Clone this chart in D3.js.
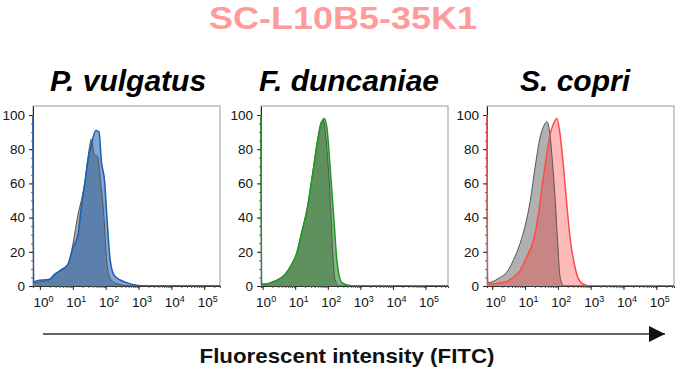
<!DOCTYPE html>
<html>
<head>
<meta charset="utf-8">
<script src="https://cdn.jsdelivr.net/npm/d3@7"></script>
<style>
  body { margin: 0; background: #fff; }
  text { font-family: "Liberation Sans", Arial, sans-serif; }
</style>
</head>
<body>
<div id="chart"></div>
<script>
////////////////////////////////////////////////////////////////////////
// Data. x values are log10(FITC), y is % of max

let chartTitle = "SC-L10B5-35K1";
let species = ["P. vulgatus", "F. duncaniae", "S. copri"];
let axisLabel = "Fluorescent intensity (FITC)";

let yTicks = [0, 20, 40, 60, 80, 100];
let xTickExps = [0, 1, 2, 3, 4, 5];

// control (grey) histograms
let controlP = [[-0.21, 100], [-0.19, 2], [0.3, 4], [0.6, 9], [0.86, 13], [1.0, 24], [1.16, 42],
  [1.26, 50], [1.36, 60], [1.46, 75], [1.57, 86], [1.65, 77], [1.75, 76], [1.85, 60],
  [1.95, 40], [2.03, 15], [2.15, 4], [2.4, 1], [2.8, 0], [5.48, 0]];
let controlF = [[-0.05, 100], [-0.03, 1], [0.39, 3], [0.7, 7], [0.9, 13], [1.05, 20], [1.2, 32],
  [1.36, 45], [1.51, 63], [1.67, 84], [1.8, 96], [1.86, 97], [1.95, 85], [2.07, 52],
  [2.15, 20], [2.22, 4], [2.35, 0], [5.69, 0]];
let controlS = [[-0.16, 100], [-0.14, 2], [0.24, 5], [0.44, 8], [0.64, 15], [0.85, 25],
  [1.0, 35], [1.16, 50], [1.31, 70], [1.46, 87], [1.58, 94], [1.67, 96], [1.75, 90],
  [1.82, 76], [1.92, 50], [1.99, 27], [2.07, 5], [2.18, 0], [5.54, 0]];

// stained (coloured) histograms
let sampleP = [[-0.21, 100], [-0.19, 2], [-0.1, 3], [0.3, 4], [0.45, 7], [0.7, 10], [0.86, 13],
  [1.0, 22], [1.16, 30], [1.26, 46], [1.36, 59], [1.46, 73], [1.57, 83], [1.7, 91],
  [1.8, 90], [1.87, 73], [1.97, 61], [2.04, 40], [2.14, 15], [2.27, 6], [2.63, 2],
  [2.93, 0.5], [3.33, 0], [5.48, 0]];
let sampleF = [[-0.05, 100], [-0.03, 1], [0.39, 3], [0.7, 7], [0.9, 13], [1.05, 19], [1.2, 31],
  [1.36, 44], [1.51, 62], [1.67, 82], [1.8, 95], [1.89, 98], [1.97, 93], [2.07, 70],
  [2.18, 41], [2.28, 15], [2.43, 2], [2.74, 0], [5.69, 0]];
let sampleS = [[-0.16, 100], [-0.14, 1], [0.34, 2], [0.64, 5], [0.85, 9], [1.05, 17], [1.26, 27],
  [1.41, 42], [1.56, 64], [1.67, 78], [1.77, 89], [1.87, 95], [1.97, 98], [2.05, 91],
  [2.17, 70], [2.28, 46], [2.38, 27], [2.5, 13], [2.63, 4], [2.78, 1], [2.98, 0], [5.54, 0]];

let controls = [controlP, controlF, controlS];
let samples = [sampleP, sampleF, sampleS];

// axis ranges (log10) of each panel as drawn
let xDomainsLog = [[-0.21, 5.48], [-0.05, 5.69], [-0.16, 5.54]];

////////////////////////////////////////////////////////////////////////
// Layout and styles

let width = 680;
let height = 377;
let panelLeft = [33, 261, 487];
let panelWidth = 187;
let plotTop = 106;
let plotBottom = 286;
let nameCenter = [128, 349, 575];

let sampleStroke = ["#1a5fb4", "#1f9a1f", "#ff4a4a"];
let sampleFill = ["rgba(30,95,175,0.55)", "rgba(35,125,35,0.55)", "rgba(255,41,41,0.32)"];
let controlFill = ["#a8a8a8", "#a8a8a8", "#b0b0b0"];
let controlStroke = "#555";

let svg = d3.select("#chart")
  .append("svg")
  .attr("width", width)
  .attr("height", height);

// title
svg.append("text")
  .attr("x", 343)
  .attr("y", 29)
  .attr("text-anchor", "middle")
  .attr("font-size", 31)
  .attr("font-weight", "bold")
  .attr("fill", "#ff9b9b")
  .attr("textLength", 268)
  .attr("lengthAdjust", "spacingAndGlyphs")
  .text(chartTitle);

let yScale = d3.scaleLinear()
  .domain([0, 100 * (plotBottom - plotTop) / (plotBottom - 115)])
  .range([plotBottom, plotTop]);

species.forEach(function(name, p) {
  let left = panelLeft[p];
  let xScale = d3.scaleLog()
    .domain(xDomainsLog[p].map(e => Math.pow(10, e)))
    .range([left, left + panelWidth]);

  let g = svg.append("g").attr("class", "panel");

  // species name
  g.append("text")
    .attr("x", nameCenter[p])
    .attr("y", 91)
    .attr("text-anchor", "middle")
    .attr("font-size", 30)
    .attr("font-weight", "bold")
    .attr("font-style", "italic")
    .attr("fill", "#000")
    .text(name);

  // frame
  g.append("rect")
    .attr("x", left)
    .attr("y", plotTop)
    .attr("width", panelWidth)
    .attr("height", plotBottom - plotTop)
    .attr("fill", "none")
    .attr("stroke", "#999")
    .attr("stroke-width", 1);

  // y axis with minor ticks
  let yAxis = g.append("g")
    .attr("transform", "translate(" + left + ",0)");
  yAxis.call(d3.axisLeft(yScale).tickValues(d3.range(0, 101, 5)).tickSize(2).tickFormat(""))
    .call(a => a.select(".domain").remove())
    .selectAll("line").attr("stroke", "#666");
  yAxis.append("g")
    .call(d3.axisLeft(yScale).tickValues(yTicks).tickSize(4).tickSizeOuter(0))
    .call(a => a.select(".domain").attr("stroke", "#222"))
    .call(a => a.selectAll("line").attr("stroke", "#222"))
    .call(a => a.selectAll("text")
      .attr("font-size", 13.5)
      .attr("fill", "#111")
      .attr("font-family", "'Liberation Sans', Arial, sans-serif")
      .attr("dx", -1));

  // x axis with log minor ticks
  let minor = [];
  xTickExps.forEach(function(e) {
    for (let k = 1; k < 10; k++) {
      let v = k * Math.pow(10, e);
      if (v >= xScale.domain()[0] && v <= xScale.domain()[1]) minor.push(v);
    }
  });
  let xAxis = g.append("g")
    .attr("transform", "translate(0," + plotBottom + ")");
  xAxis.call(d3.axisBottom(xScale).tickValues(minor).tickSize(2).tickFormat(""))
    .call(a => a.select(".domain").attr("stroke", "#333"))
    .selectAll("line").attr("stroke", "#555");
  let major = xAxis.append("g")
    .call(d3.axisBottom(xScale).tickValues(xTickExps.map(e => Math.pow(10, e))).tickSize(4).tickFormat(""))
    .call(a => a.select(".domain").remove())
    .call(a => a.selectAll("line").attr("stroke", "#222"));

  major.selectAll(".tick").each(function(d, i) {
    let t = d3.select(this).append("text")
      .attr("y", 21)
      .attr("x", 3)
      .attr("text-anchor", "middle")
      .attr("font-size", 13.5)
      .attr("fill", "#111")
      .attr("font-family", "'Liberation Sans', Arial, sans-serif");
    t.append("tspan").text("10");
    t.append("tspan")
      .attr("dy", -5)
      .attr("font-size", 9)
      .text(xTickExps[i]);
  });

  // histograms on top of the axes, so the edge spike shows
  g.append("clipPath")
    .attr("id", "clip" + p)
    .append("rect")
    .attr("x", left - 1)
    .attr("y", plotTop)
    .attr("width", panelWidth + 1)
    .attr("height", plotBottom - plotTop);

  let area = d3.area()
    .x(d => xScale(Math.pow(10, d[0])))
    .y0(yScale(0))
    .y1(d => yScale(d[1]))
    .curve(d3.curveMonotoneX);

  let line = d3.line()
    .x(d => xScale(Math.pow(10, d[0])))
    .y(d => yScale(d[1]))
    .curve(d3.curveMonotoneX);

  let hist = g.append("g").attr("clip-path", "url(#clip" + p + ")");

  hist.append("path")
    .datum(controls[p])
    .attr("d", area)
    .attr("fill", controlFill[p]);
  hist.append("path")
    .datum(samples[p])
    .attr("d", area)
    .attr("fill", sampleFill[p]);
  hist.append("path")
    .datum(controls[p])
    .attr("d", line)
    .attr("fill", "none")
    .attr("stroke", controlStroke)
    .attr("stroke-width", 1);
  hist.append("path")
    .datum(samples[p])
    .attr("d", line)
    .attr("fill", "none")
    .attr("stroke", sampleStroke[p])
    .attr("stroke-width", 1.5);
});

// long arrow under the panels
let arrowScale = d3.scaleLinear().domain([0, 1]).range([43, 665]);
svg.append("defs").append("marker")
  .attr("id", "arrowhead")
  .attr("viewBox", "0 0 10 10")
  .attr("refX", 10)
  .attr("refY", 5)
  .attr("markerUnits", "userSpaceOnUse")
  .attr("markerWidth", 18)
  .attr("markerHeight", 16)
  .attr("orient", "auto")
  .append("path")
  .attr("d", "M0,0 L10,5 L0,10 Z")
  .attr("fill", "#111");

svg.append("line")
  .attr("x1", arrowScale(0))
  .attr("x2", arrowScale(1))
  .attr("y1", 334)
  .attr("y2", 334)
  .attr("stroke", "#333")
  .attr("stroke-width", 1.6)
  .attr("marker-end", "url(#arrowhead)");

svg.append("text")
  .attr("x", 347)
  .attr("y", 363)
  .attr("text-anchor", "middle")
  .attr("font-size", 21)
  .attr("font-weight", "bold")
  .attr("fill", "#111")
  .attr("textLength", 295)
  .attr("lengthAdjust", "spacingAndGlyphs")
  .text(axisLabel);
</script>
</body>
</html>
